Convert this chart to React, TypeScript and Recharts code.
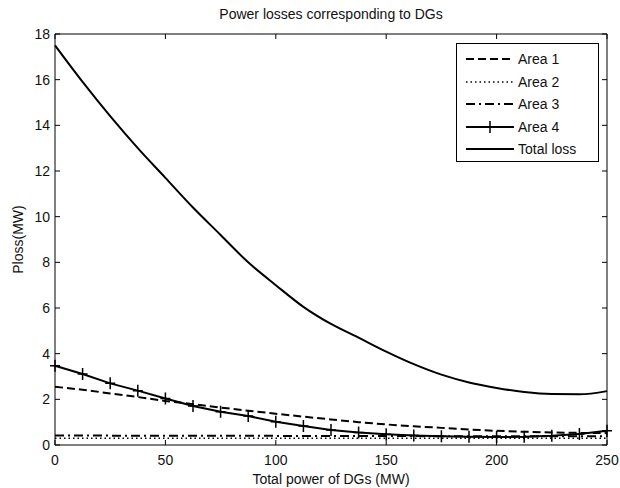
import {
  LineChart,
  Line,
  XAxis,
  YAxis,
  ReferenceArea,
  Legend,
} from "recharts";

const power = [
  0, 12.5, 25, 37.5, 50, 62.5, 75, 87.5, 100, 112.5, 125, 137.5, 150, 162.5,
  175, 187.5, 200, 212.5, 225, 237.5, 250,
];
const area1 = [
  2.55, 2.42, 2.26, 2.1, 1.93, 1.79, 1.64, 1.5, 1.37, 1.24, 1.12, 1.0, 0.9,
  0.82, 0.75, 0.68, 0.62, 0.58, 0.55, 0.53, 0.52,
];
const area2 = [
  0.3, 0.3, 0.3, 0.3, 0.3, 0.3, 0.3, 0.3, 0.3, 0.3, 0.3, 0.3, 0.3, 0.3, 0.3,
  0.3, 0.3, 0.3, 0.3, 0.3, 0.3,
];
const area3 = [
  0.42, 0.42, 0.41, 0.41, 0.41, 0.4, 0.4, 0.4, 0.4, 0.39, 0.39, 0.39, 0.39,
  0.39, 0.38, 0.38, 0.38, 0.38, 0.38, 0.38, 0.38,
];
const area4 = [
  3.47, 3.11, 2.7, 2.38, 2.04, 1.71, 1.46, 1.27, 1.02, 0.83, 0.66, 0.55, 0.47,
  0.42, 0.38, 0.36, 0.35, 0.36, 0.4, 0.48, 0.62,
];
const totalLoss = [
  17.5, 15.9, 14.4, 13.0, 11.7, 10.4, 9.2, 8.0, 7.0, 6.05, 5.3, 4.7, 4.09,
  3.54, 3.08, 2.74, 2.5, 2.32, 2.23, 2.22, 2.36,
];

const xTicks = [0, 50, 100, 150, 200, 250];
const yTicks = [0, 2, 4, 6, 8, 10, 12, 14, 16, 18];

const data = power.map((p, i) => ({
  power: p,
  area1: area1[i],
  area2: area2[i],
  area3: area3[i],
  area4: area4[i],
  total: totalLoss[i],
}));

const FONT = '"Liberation Sans", Arial, sans-serif';
const PLOT_LEFT = 55;
const PLOT_RIGHT = 607;
const PLOT_TOP = 34;
const PLOT_BOTTOM = 445;

const XTick = (props: any) => {
  const { x, payload } = props;
  return (
    <g>
      <line x1={x} x2={x} y1={PLOT_BOTTOM} y2={PLOT_BOTTOM - 5} stroke="#000" />
      <line x1={x} x2={x} y1={PLOT_TOP} y2={PLOT_TOP + 5} stroke="#000" />
      <text
        x={x}
        y={PLOT_BOTTOM + 20}
        textAnchor="middle"
        fontSize={14}
        fontFamily={FONT}
        fill="#111"
      >
        {payload.value}
      </text>
    </g>
  );
};

const YTick = (props: any) => {
  const { y, payload } = props;
  return (
    <g>
      <line x1={PLOT_LEFT} x2={PLOT_LEFT + 5} y1={y} y2={y} stroke="#000" />
      <line x1={PLOT_RIGHT} x2={PLOT_RIGHT - 5} y1={y} y2={y} stroke="#000" />
      <text
        x={PLOT_LEFT - 5}
        y={y + 5}
        textAnchor="end"
        fontSize={14}
        fontFamily={FONT}
        fill="#111"
      >
        {payload.value}
      </text>
    </g>
  );
};

const PlusDot = (props: any) => {
  const { cx, cy, index } = props;
  return (
    <path
      key={index}
      d={`M${cx - 5},${cy}H${cx + 5}M${cx},${cy - 6}V${cy + 6}`}
      stroke="#000"
      strokeWidth={1.5}
    />
  );
};

const legendItems = [
  { name: "Area 1", dash: "8 4", width: 2, plus: false },
  { name: "Area 2", dash: "1.5 3", width: 1.5, plus: false },
  { name: "Area 3", dash: "9 4 2 4", width: 2, plus: false },
  { name: "Area 4", dash: undefined, width: 2, plus: true },
  { name: "Total loss", dash: undefined, width: 2, plus: false },
];

const LegendBox = () => (
  <div
    style={{
      width: 141,
      height: 117,
      border: "1px solid #000",
      background: "#fff",
      fontFamily: FONT,
      fontSize: 14,
      color: "#111",
    }}
  >
    {legendItems.map((it, i) => (
      <div
        key={it.name}
        style={{
          position: "absolute",
          top: 8 + i * 22.5,
          left: 8,
          display: "flex",
          alignItems: "center",
          height: 16,
        }}
      >
        <svg width={52} height={16}>
          <line
            x1={2}
            x2={50}
            y1={8}
            y2={8}
            stroke="#000"
            strokeWidth={it.width}
            strokeDasharray={it.dash}
          />
          {it.plus && (
            <path d="M21,8H31M26,2V14" stroke="#000" strokeWidth={1.5} />
          )}
        </svg>
        <span style={{ marginLeft: 2 }}>{it.name}</span>
      </div>
    ))}
  </div>
);

export default function App() {
  return (
    <div
      style={{
        position: "absolute",
        left: 0,
        top: 0,
        width: 620,
        height: 488,
        background: "#fff",
      }}
    >
      <div
        style={{
          position: "absolute",
          top: 6,
          left: PLOT_LEFT,
          width: PLOT_RIGHT - PLOT_LEFT,
          textAlign: "center",
          fontFamily: FONT,
          fontSize: 14,
          color: "#111",
        }}
      >
        Power losses corresponding to DGs
      </div>
      <LineChart
        width={620}
        height={488}
        data={data}
        margin={{ top: PLOT_TOP, right: 620 - PLOT_RIGHT, left: 0, bottom: 0 }}
      >
        <XAxis
          dataKey="power"
          type="number"
          domain={[0, 250]}
          ticks={xTicks}
          axisLine={false}
          tickLine={false}
          tick={XTick}
          height={488 - PLOT_BOTTOM}
          interval={0}
          label={{
            value: "Total power of DGs (MW)",
            position: "insideBottom",
            offset: 4,
            fontSize: 14,
            fontFamily: FONT,
            fill: "#111",
          }}
        />
        <YAxis
          type="number"
          domain={[0, 18]}
          ticks={yTicks}
          axisLine={false}
          tickLine={false}
          tick={YTick}
          width={PLOT_LEFT}
          interval={0}
          label={{
            value: "Ploss(MW)",
            angle: -90,
            position: "insideLeft",
            offset: 18,
            style: { textAnchor: "middle" },
            fontSize: 14,
            fontFamily: FONT,
            fill: "#111",
          }}
        />
        <Legend
          layout="horizontal"
          verticalAlign="middle"
          align="center"
          content={LegendBox}
          wrapperStyle={{ position: "absolute", left: 456, top: 43, width: 143 }}
        />
        <Line
          dataKey="area1"
          stroke="#000"
          strokeWidth={2}
          strokeDasharray="8 4"
          dot={false}
          isAnimationActive={false}
          legendType="none"
        />
        <Line
          dataKey="area2"
          stroke="#000"
          strokeWidth={1.5}
          strokeDasharray="1.5 3"
          dot={false}
          isAnimationActive={false}
          legendType="none"
        />
        <Line
          dataKey="area3"
          stroke="#000"
          strokeWidth={2}
          strokeDasharray="9 4 2 4"
          dot={false}
          isAnimationActive={false}
          legendType="none"
        />
        <Line
          dataKey="area4"
          stroke="#000"
          strokeWidth={2}
          dot={PlusDot}
          isAnimationActive={false}
          legendType="none"
        />
        <Line
          type="monotone"
          dataKey="total"
          stroke="#000"
          strokeWidth={2}
          dot={false}
          isAnimationActive={false}
          legendType="none"
        />
        <ReferenceArea
          x1={0}
          x2={250}
          y1={0}
          y2={18}
          fill="none"
          stroke="#000"
          strokeWidth={1}
          ifOverflow="visible"
        />
      </LineChart>
    </div>
  );
}
